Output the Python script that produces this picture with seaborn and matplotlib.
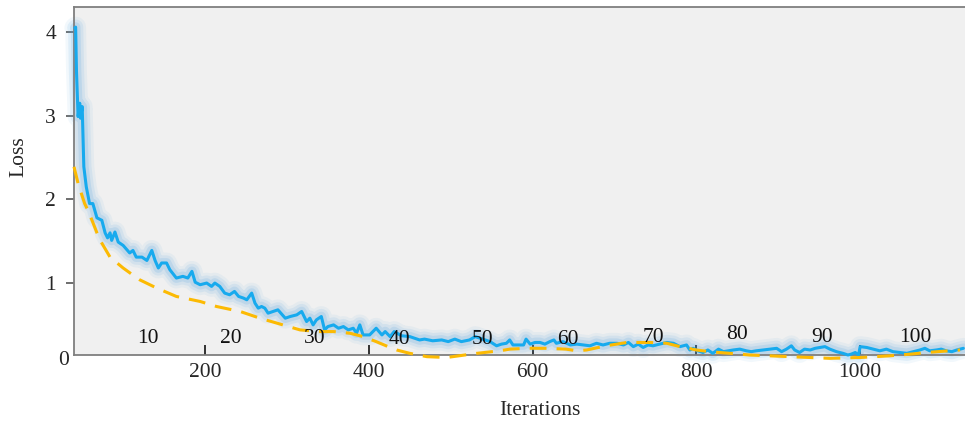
import matplotlib
matplotlib.use("Agg")
import matplotlib.pyplot as plt
import pandas as pd
import seaborn as sns

# training loss (blue, noisy)
loss_iter = [41, 42, 43, 45, 47, 48, 50, 52, 55, 59, 63, 68, 74, 78, 81, 84, 86, 90, 94, 100,
             108, 112, 116, 123, 129, 135, 139, 143, 147, 153, 157, 165, 173, 179, 184, 188, 194,
             202, 208, 212, 218, 224, 230, 236, 241, 247, 251, 257, 261, 265, 269, 273, 277, 283,
             289, 298, 304, 312, 318, 324, 328, 332, 336, 342, 346, 350, 357, 363, 369, 375, 381,
             385, 389, 393, 401, 409, 416, 420, 426, 431, 440, 450, 456, 462, 468, 478, 489, 497,
             505, 513, 523, 530, 539, 548, 556, 562, 568, 572, 576, 582, 589, 592, 597, 603, 609,
             615, 621, 626, 629, 637, 646, 654, 662, 670, 678, 686, 694, 703, 711, 717, 723, 729,
             735, 741, 747, 755, 764, 772, 780, 788, 792, 796, 802, 808, 814, 820, 827, 833, 839,
             845, 853, 861, 867, 873, 882, 890, 898, 904, 910, 916, 920, 926, 932, 939, 945, 951,
             957, 963, 971, 979, 985, 989, 994, 998, 1000, 1008, 1016, 1024, 1032, 1040, 1048,
             1057, 1065, 1073, 1079, 1085, 1093, 1099, 1105, 1112, 1118, 1126]
loss_val = [4.05, 4.06, 3.54, 2.99, 3.15, 2.97, 3.11, 2.39, 2.15, 1.95, 1.95, 1.78, 1.75, 1.60,
            1.54, 1.60, 1.51, 1.61, 1.49, 1.45, 1.36, 1.39, 1.31, 1.31, 1.27, 1.39, 1.27, 1.18,
            1.24, 1.24, 1.16, 1.06, 1.08, 1.06, 1.14, 1.01, 0.98, 1.00, 0.96, 1.00, 0.96, 0.88,
            0.86, 0.90, 0.84, 0.82, 0.80, 0.88, 0.76, 0.70, 0.72, 0.70, 0.64, 0.66, 0.68, 0.58,
            0.60, 0.62, 0.66, 0.54, 0.58, 0.50, 0.56, 0.60, 0.44, 0.48, 0.50, 0.46, 0.48, 0.44,
            0.46, 0.40, 0.50, 0.38, 0.38, 0.46, 0.38, 0.42, 0.36, 0.42, 0.37, 0.36, 0.34, 0.32,
            0.33, 0.31, 0.32, 0.30, 0.33, 0.30, 0.32, 0.36, 0.33, 0.30, 0.25, 0.27, 0.28, 0.32,
            0.26, 0.26, 0.26, 0.33, 0.27, 0.29, 0.29, 0.27, 0.30, 0.32, 0.28, 0.30, 0.26, 0.27,
            0.26, 0.25, 0.28, 0.26, 0.28, 0.28, 0.26, 0.29, 0.24, 0.27, 0.23, 0.26, 0.25, 0.27,
            0.29, 0.28, 0.24, 0.26, 0.20, 0.22, 0.19, 0.17, 0.20, 0.16, 0.21, 0.18, 0.19, 0.20,
            0.21, 0.19, 0.18, 0.19, 0.20, 0.21, 0.22, 0.18, 0.21, 0.25, 0.20, 0.17, 0.21, 0.20,
            0.22, 0.23, 0.24, 0.21, 0.18, 0.16, 0.14, 0.15, 0.17, 0.14, 0.24, 0.23, 0.21, 0.19,
            0.21, 0.18, 0.17, 0.16, 0.18, 0.20, 0.22, 0.19, 0.20, 0.21, 0.19, 0.18, 0.20, 0.22]

# smooth trend (orange, dashed)
trend_iter = [40, 45, 53, 57, 62, 68, 72, 84, 100, 117, 120, 141, 165, 194, 214, 243, 267, 295,
              316, 340, 357, 377, 393, 409, 426, 434, 450, 471, 495, 532, 560, 572, 593, 617,
              641, 654, 666, 690, 715, 743, 764, 780, 800, 816, 841, 865, 890, 914, 939, 963,
              1000, 1036, 1061, 1081, 1122]
trend_val = [2.39, 2.19, 1.95, 1.87, 1.75, 1.60, 1.51, 1.31, 1.18, 1.06, 1.04, 0.94, 0.84, 0.78,
             0.72, 0.66, 0.58, 0.50, 0.44, 0.42, 0.42, 0.40, 0.36, 0.30, 0.23, 0.20, 0.16, 0.12,
             0.11, 0.16, 0.19, 0.21, 0.22, 0.22, 0.21, 0.19, 0.20, 0.25, 0.29, 0.29, 0.28, 0.24,
             0.20, 0.18, 0.16, 0.14, 0.13, 0.12, 0.11, 0.10, 0.11, 0.13, 0.15, 0.17, 0.20]

# epoch markers
epochs = [10, 20, 30, 40, 50, 60, 70, 80, 90, 100]
epoch_iter = [130, 232, 334, 438, 539, 643, 747, 849, 953, 1067]
epoch_y = [0.34, 0.34, 0.34, 0.33, 0.33, 0.33, 0.35, 0.38, 0.35, 0.35]

loss_df = pd.DataFrame({"Iterations": loss_iter, "Loss": loss_val})
trend_df = pd.DataFrame({"Iterations": trend_iter, "Loss": trend_val})

FS = 15.5

sns.set_theme(style="white")
plt.rcParams["font.family"] = ["Liberation Serif", "DejaVu Serif"]

fig = plt.figure(figsize=(9.65, 4.23), dpi=100)
ax = fig.add_axes([74 / 965, 1 - 355 / 423, 891 / 965, 348 / 423])
ax.set_facecolor("#f0f0f0")

# soft glow under the loss curve
for lw, a in [(15, 0.08), (11, 0.12), (7, 0.18)]:
    ax.plot(loss_iter, loss_val, color="#5aa6e0", lw=lw, alpha=a,
            solid_capstyle="round", solid_joinstyle="round", clip_on=False, zorder=2)

sns.lineplot(data=loss_df, x="Iterations", y="Loss", ax=ax, color="#17aaee",
             lw=2.2, clip_on=False, zorder=3)
sns.lineplot(data=trend_df, x="Iterations", y="Loss", ax=ax, color="#fcba03",
             lw=2.2, linestyle=(0, (5.5, 3.3)), clip_on=False, zorder=4)

for e, xi, yi in zip(epochs, epoch_iter, epoch_y):
    ax.text(xi, yi, str(e), ha="center", va="center", fontsize=FS, color="#111111", zorder=5)

ax.set_xlim(40, 1128)
ax.set_ylim(0.14, 4.30)
ax.set_xticks([200, 400, 600, 800, 1000])
ax.set_yticks([1, 2, 3, 4])
ax.tick_params(axis="x", direction="in", length=7, width=1.2, color="#111111",
               labelsize=FS, pad=6, bottom=True)
ax.tick_params(axis="y", direction="out", length=6, width=1.2, color="#555555",
               labelsize=FS, pad=7, left=True)

for side in ["left", "top", "bottom"]:
    ax.spines[side].set_color("#7f7f7f")
    ax.spines[side].set_linewidth(1.3)
ax.spines["right"].set_visible(False)

ax.text(-0.012, -0.017, "0", transform=ax.transAxes, ha="center", va="center", fontsize=FS)

ax.set_xlabel("Iterations", fontsize=FS)
ax.set_ylabel("Loss", fontsize=FS)
ax.xaxis.set_label_coords(0.523, -0.132)
ax.yaxis.set_label_coords(-0.0516, 0.569)

plt.savefig("out.png", dpi=100)
